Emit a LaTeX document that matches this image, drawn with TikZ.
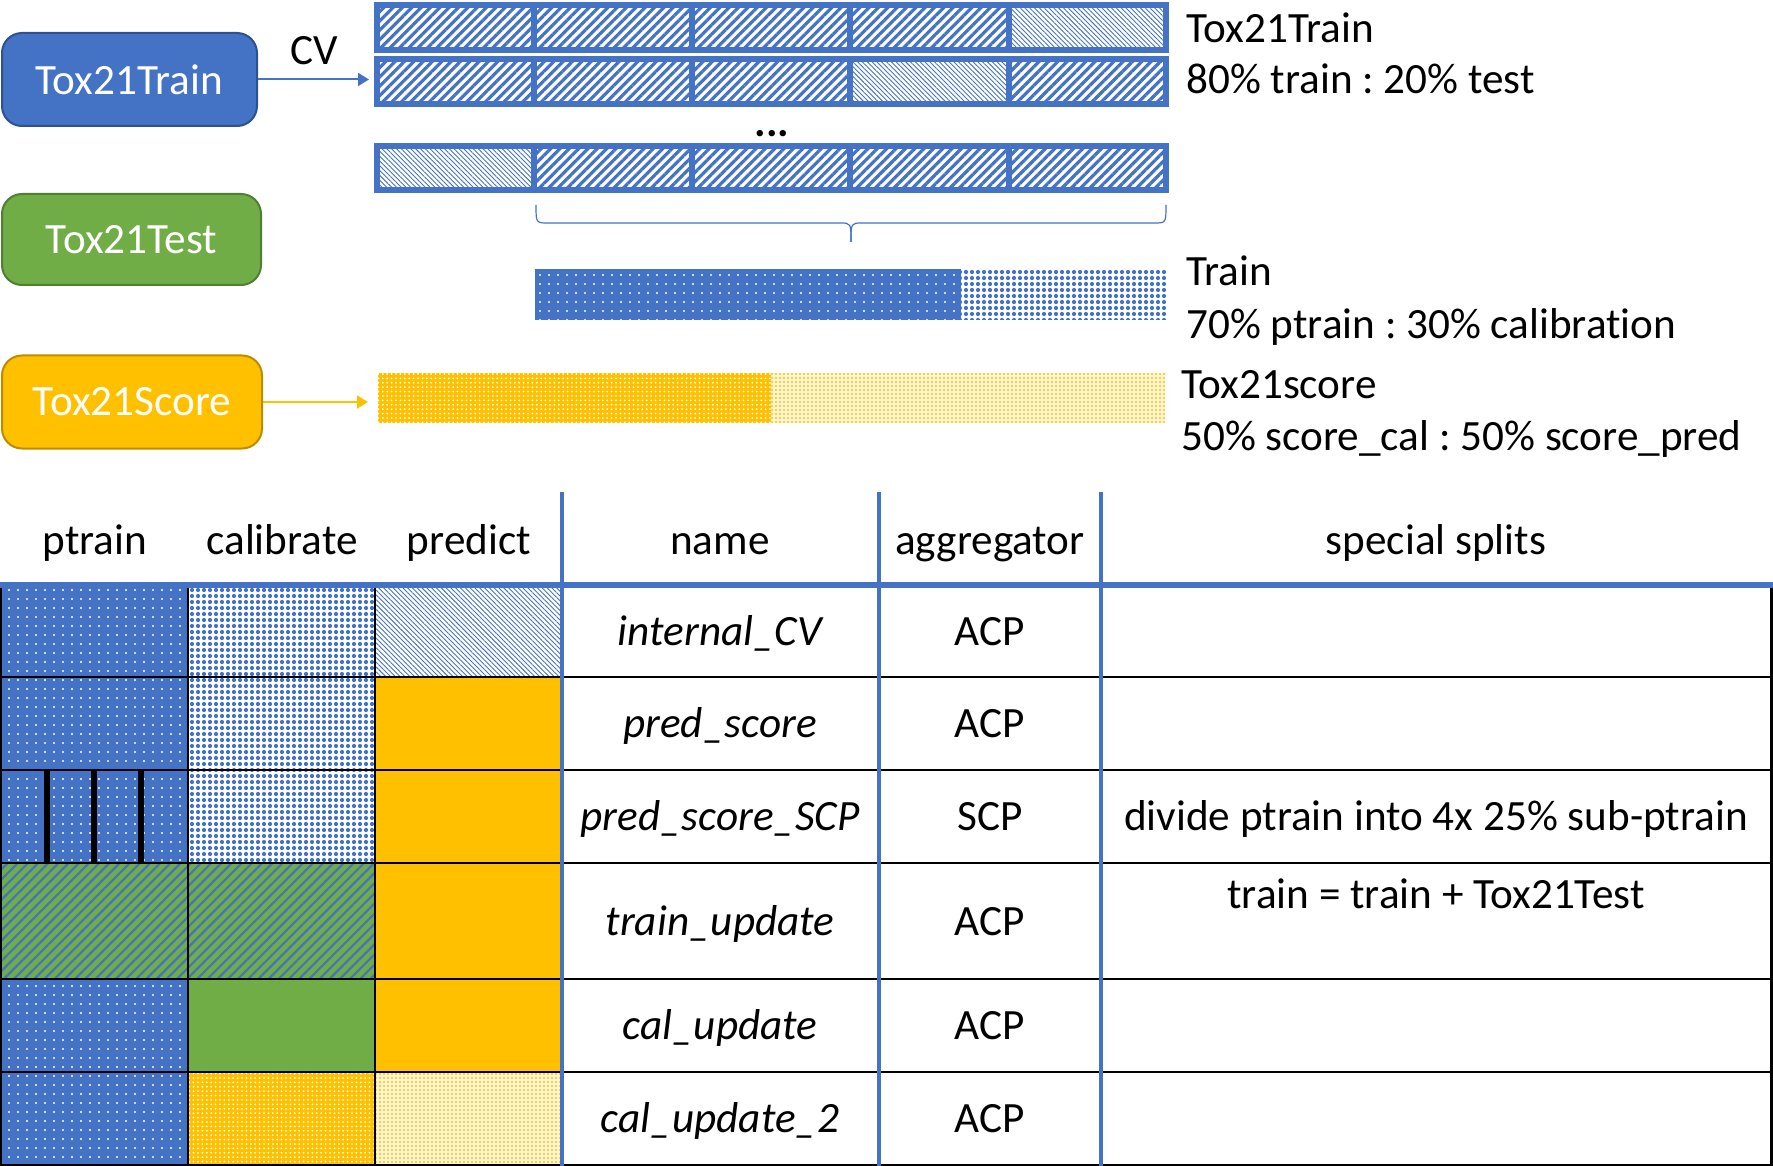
\documentclass[tikz,border=0pt]{standalone}
\usepackage{fontspec}
\setmainfont{Carlito}[Ligatures=NoCommon]
\frenchspacing
\usetikzlibrary{patterns.meta,arrows.meta}
\definecolor{cblue}{HTML}{4472C4}
\definecolor{cbluedk}{HTML}{2F528F}
\definecolor{cgreen}{HTML}{70AD47}
\definecolor{cgreendk}{HTML}{507E32}
\definecolor{cyel}{HTML}{FFC000}
\definecolor{cyeldk}{HTML}{BC8C00}
\newcommand{\fsz}{\fontsize{21.6}{26}\selectfont}
\tikzset{
 srcbox/.style={rounded corners=10pt, line width=1pt, text=white, font=\fsz, inner sep=0pt},
 txt/.style={font=\fsz, inner sep=0pt, anchor=base},
 itxt/.style={txt, font=\fsz\itshape},
 lbl/.style={txt, anchor=base west},
 widehatch/.style={pattern={Lines[angle=45,distance=3.3pt,line width=1.6pt]}, pattern color=cblue},
 finehatch/.style={pattern={Lines[angle=-45,distance=1.7pt,line width=0.45pt]}, pattern color=cblue},
 ptrainfill/.style={preaction={fill=cblue}, pattern={Dots[distance=4.5pt,radius=0.6pt]}, pattern color=white},
 calfill/.style={pattern={Dots[distance=3pt,radius=1.05pt]}, pattern color=cblue},
 scorecal/.style={preaction={fill=cyel}, pattern={Dots[distance=2.2pt,radius=0.5pt]}, pattern color=white},
 scorepred/.style={preaction={fill=cyel!15}, pattern={Dots[distance=2pt,radius=0.55pt]}, pattern color=cyel},
 mixfill/.style={preaction={fill=cgreen}, pattern={Lines[angle=45,distance=3.6pt,line width=1.1pt]}, pattern color=cblue},
 barcell/.style={draw=cblue, line width=2.6pt},
 bluerule/.style={draw=cblue, line width=2.3pt},
 blackrule/.style={draw=black, line width=1.2pt},
 conn/.style={line width=1pt, -{Triangle[length=5.5pt,width=6.5pt]}},
}
\begin{document}
\begin{tikzpicture}[x=0.5pt,y=-0.5pt]
\useasboundingbox (0,0) rectangle (1773,1166);

% source boxes
\node[srcbox, fill=cblue, draw=cbluedk, minimum width=127.5pt, minimum height=46.5pt] (tt) at (129.5,79.5) {Tox21Train};
\node[srcbox, fill=cgreen, draw=cgreendk, minimum width=129.5pt, minimum height=45.5pt] (te) at (131.5,239.5) {Tox21Test};
\node[srcbox, fill=cyel, draw=cyeldk, minimum width=130pt, minimum height=46.5pt] (ts) at (132,402) {Tox21Score};

% CV bars
\foreach \ya/\yb/\t in {5/50/5, 59/104/4, 146/190/1} {
  \foreach \xa/\xb [count=\i] in {377/534, 534/692, 692/850, 850/1009, 1009/1166} {
    \ifnum\i=\t
      \path[finehatch] (\xa,\ya) rectangle (\xb,\yb);
    \else
      \path[widehatch] (\xa,\ya) rectangle (\xb,\yb);
    \fi
    \draw[barcell] (\xa,\ya) rectangle (\xb,\yb);
  }
}
\coordinate (cvend) at (369,79.5);
\draw[conn, cblue] (tt.east) -- (cvend);
\node[txt] (cv) at (314,65) {CV};
\node[txt, font=\fsz\bfseries] (dots) at (772,137) {...};

% labels right
\node[lbl] (l1) at (1186,43) {Tox21Train};
\node[lbl] (l2) at (1186,94) {80\% train : 20\% test};
\node[lbl] (l3) at (1186,286) {Train};
\node[lbl] (l4) at (1186,338) {70\% ptrain : 30\% calibration};
\node[lbl] (l5) at (1181,398) {Tox21score};
\node[lbl] (l6) at (1181,450) {50\% score\_cal : 50\% score\_pred};

% brace
\draw[cblue, line width=0.6pt] (536,205) .. controls (536,223) .. (548,223) -- (840,223) .. controls (851,223) .. (851,242);
\draw[cblue, line width=0.6pt] (1166,205) .. controls (1166,223) .. (1154,223) -- (862,223) .. controls (851,223) .. (851,242);

% train bar
\path[ptrainfill] (535,269) rectangle (961,320);
\path[calfill] (961,269) rectangle (1166,320);

% score bar
\path[scorecal] (378,373) rectangle (771,423);
\path[scorepred] (771,373) rectangle (1165,423);
\coordinate (scend) at (368,402);
\draw[conn, cyel] (ts.east) -- (scend);

% table cells
\path[ptrainfill] (0,585) rectangle (188,677);
\path[calfill] (188,585) rectangle (375,677);
\path[finehatch] (375,585) rectangle (562,677);

\path[ptrainfill] (0,677) rectangle (188,770);
\path[calfill] (188,677) rectangle (375,770);
\path[fill=cyel] (375,677) rectangle (562,770);

\path[ptrainfill] (0,770) rectangle (188,863);
\path[calfill] (188,770) rectangle (375,863);
\path[fill=cyel] (375,770) rectangle (562,863);

\path[mixfill] (0,863) rectangle (188,979);
\path[mixfill] (188,863) rectangle (375,979);
\path[fill=cyel] (375,863) rectangle (562,979);

\path[ptrainfill] (0,979) rectangle (188,1072);
\path[fill=cgreen] (188,979) rectangle (375,1072);
\path[fill=cyel] (375,979) rectangle (562,1072);

\path[ptrainfill] (0,1072) rectangle (188,1165);
\path[scorecal] (188,1072) rectangle (375,1165);
\path[scorepred] (375,1072) rectangle (562,1165);

% sub-ptrain separators
\foreach \x in {47,94,141} \draw[line width=2.75pt] (\x,770) -- (\x,863);

% black rules
\foreach \y in {677,770,863,979,1072} \draw[blackrule] (0,\y) -- (1773,\y);
\draw[blackrule] (0,1165) -- (1773,1165);
\draw[blackrule] (1,585) -- (1,1166);
\draw[blackrule] (1771.5,585) -- (1771.5,1166);
\draw[blackrule] (188,585) -- (188,1166);
\draw[blackrule] (375,585) -- (375,1166);

% blue rules
\draw[cblue, line width=2.8pt] (0,585) -- (1773,585);
\foreach \x in {562,879,1101} \draw[bluerule] (\x,492) -- (\x,1166);

% header
\node[txt] (h1) at (95,554) {ptrain};
\node[txt] (h2) at (282,554) {calibrate};
\node[txt] (h3) at (469,554) {predict};
\node[txt] (h4) at (720,554) {name};
\node[txt] (h5) at (990,554) {aggregator};
\node[txt] (h6) at (1436,554) {special splits};

% rows
\node[itxt] (n1) at (720,645) {internal\_CV};
\node[itxt] (n2) at (720,737) {pred\_score};
\node[itxt] (n3) at (720,830) {pred\_score\_SCP};
\node[itxt] (n4) at (720,935) {train\_update};
\node[itxt] (n5) at (720,1039) {cal\_update};
\node[itxt] (n6) at (720,1132) {cal\_update\_2};

\node[txt] (a1) at (990,645) {ACP};
\node[txt] (a2) at (990,737) {ACP};
\node[txt] (a3) at (990,830) {SCP};
\node[txt] (a4) at (990,935) {ACP};
\node[txt] (a5) at (990,1039) {ACP};
\node[txt] (a6) at (990,1132) {ACP};

\node[txt] (s3) at (1436,830) {divide ptrain into 4x 25\% sub-ptrain};
\node[txt] (s4) at (1436,908) {train = train + Tox21Test};
\end{tikzpicture}
\end{document}
